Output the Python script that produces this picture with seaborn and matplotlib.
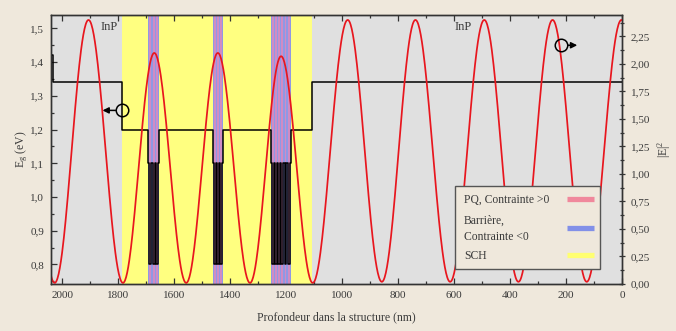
import numpy as np
import pandas as pd
import matplotlib
matplotlib.use("Agg")
import matplotlib.pyplot as plt
import seaborn as sns
from matplotlib.ticker import FuncFormatter, MultipleLocator
from matplotlib.lines import Line2D
from matplotlib.patches import Rectangle

# ---------------- data ----------------
# band-gap profile: layer boundaries (depth, nm) and band gap of each layer (eV)
layer_bounds = [2040, 2032, 1787, 1694, 1653, 1462, 1427, 1253, 1184, 1107, 0]
layer_eg = [1.42, 1.34, 1.20, None, 1.20, None, 1.20, None, 1.20, 1.34]
# quantum-well groups (number of wells, well thickness nm)
qw_count = [3, 3, 6]
qw_well_nm = [7, 7, 7]
eg_barrier = 1.10
eg_well = 0.80
sch_start, sch_end = 1787, 1107

# |E|^2 extrema (depth nm, value)
ext_depth = [2150, 2027, 1906, 1783, 1671, 1557, 1444, 1329, 1218, 1105,
             980, 858, 738, 614, 492, 370, 248, 126, 2, -120]
ext_val = [2.40, 0.01, 2.40, 0.01, 2.10, 0.01, 2.10, 0.01, 2.07, 0.01,
           2.40, 0.02, 2.40, 0.02, 2.40, 0.02, 2.40, 0.02, 2.40, 0.02]

legend_labels = ["PQ, Contrainte >0", "Barrière,\nContrainte <0", "SCH"]

# ---------------- style ----------------
BG = "#efe8dc"
GRAY = "#e0e0e0"
YEL = "#ffff80"
PINK = "#f0889c"
BLUE = "#8290e8"
WELLC = "#d08cc4"
BARC = "#9098e4"
TXT = "#3a3a3a"

sns.set_theme(style="white")
plt.rcParams["font.family"] = ["Liberation Serif", "DejaVu Serif"]
plt.rcParams["axes.unicode_minus"] = False
plt.rcParams["mathtext.fontset"] = "custom"
plt.rcParams["mathtext.rm"] = "Liberation Serif"
plt.rcParams["mathtext.it"] = "Liberation Serif:italic"

fig = plt.figure(figsize=(6.76, 3.31), dpi=100, facecolor=BG)
ax = fig.add_axes([51 / 676, 1 - 284 / 331, 571 / 676, 269 / 331])
ax.set_facecolor(GRAY)
ax2 = ax.twinx()

# backgrounds
ax.axvspan(sch_start, sch_end, color=YEL, lw=0, zorder=0.5)

# build black profile + stripes
px, py = [], []
gi = 0
for i, eg in enumerate(layer_eg):
    a, b = layer_bounds[i], layer_bounds[i + 1]
    if eg is not None:
        px += [a, b]
        py += [eg, eg]
    else:
        n = qw_count[gi]
        w = qw_well_nm[gi]
        bar = ((a - b) - n * w) / (n + 1)
        pos = a
        for k in range(n):
            ax.axvspan(pos, pos - bar, color=BARC, lw=0, zorder=0.6)
            px += [pos, pos - bar]
            py += [eg_barrier, eg_barrier]
            pos -= bar
            ax.axvspan(pos, pos - w, color=WELLC, lw=0, zorder=0.6)
            px += [pos, pos - w]
            py += [eg_well, eg_well]
            pos -= w
        ax.axvspan(pos, b, color=BARC, lw=0, zorder=0.6)
        px += [pos, b]
        py += [eg_barrier, eg_barrier]
        gi += 1

prof = pd.DataFrame({"x": px, "y": py})
sns.lineplot(data=prof, x="x", y="y", sort=False, estimator=None,
             color="black", lw=1.1, ax=ax, zorder=3)

# |E|^2 curve from extrema (cos^2 half-waves)
cx, cy = [], []
for i in range(len(ext_depth) - 1):
    t = np.linspace(0, 1, 60)
    cx.append(ext_depth[i] + (ext_depth[i + 1] - ext_depth[i]) * t)
    cy.append(ext_val[i] + (ext_val[i + 1] - ext_val[i]) * (1 - np.cos(np.pi * t)) / 2)
curve = pd.DataFrame({"x": np.concatenate(cx), "y": np.concatenate(cy)})
sns.lineplot(data=curve, x="x", y="y", sort=False, estimator=None,
             color="#e8161e", lw=1.25, ax=ax2, zorder=2)

# axes limits
ax.set_xlim(2040, 0)
ax.set_ylim(0.742, 1.54)
ax2.set_ylim(0.0, 2.445)
ax2.set_xlim(2040, 0)

# ticks
comma1 = FuncFormatter(lambda v, p: f"{v:.1f}".replace(".", ","))
comma2 = FuncFormatter(lambda v, p: f"{v:.2f}".replace(".", ","))
ax.xaxis.set_major_locator(MultipleLocator(200))
ax.xaxis.set_minor_locator(MultipleLocator(100))
ax.yaxis.set_major_locator(MultipleLocator(0.1))
ax.yaxis.set_minor_locator(MultipleLocator(0.05))
ax.yaxis.set_major_formatter(comma1)
ax2.yaxis.set_major_locator(MultipleLocator(0.25))
ax2.yaxis.set_minor_locator(MultipleLocator(0.125))
ax2.yaxis.set_major_formatter(comma2)

ax.tick_params(axis="x", which="both", direction="in", top=True, bottom=True,
               labelsize=8, colors=TXT, pad=5)
ax.tick_params(axis="x", which="major", length=4, width=0.9, color="#333")
ax.tick_params(axis="x", which="minor", length=2.5, width=0.9, color="#333")
ax.tick_params(axis="y", which="both", direction="in", left=True, right=False,
               labelsize=8, colors=TXT, pad=5)
ax.tick_params(axis="y", which="major", length=4, width=0.9, color="#333")
ax.tick_params(axis="y", which="minor", length=2.5, width=0.9, color="#333")
ax2.tick_params(axis="y", which="both", direction="inout", right=True,
                labelsize=8, colors=TXT, pad=4)
ax2.tick_params(axis="y", which="major", length=5, width=0.9, color="#333")
ax2.tick_params(axis="y", which="minor", length=3, width=0.9, color="#333")

for a_ in (ax, ax2):
    for s in a_.spines.values():
        s.set_color("#333")
        s.set_linewidth(1.0)

ax.set_xlabel("Profondeur dans la structure (nm)", fontsize=8.5, color=TXT)
ax.xaxis.set_label_coords(0.5, -0.10)
ax.set_ylabel("E$_\\mathrm{g}$ (eV)", fontsize=8.5, color=TXT)
ax.yaxis.set_label_coords(-0.037, 0.5)
ax2.set_ylabel("|E|$^\\mathrm{2}$", fontsize=8.5, color=TXT)
ax2.yaxis.set_label_coords(1.058, 0.5)

# annotations
ax.text(1833, 1.503, "InP", ha="center", va="center", fontsize=9, color=TXT, zorder=5)
ax.text(566, 1.503, "InP", ha="center", va="center", fontsize=9, color=TXT, zorder=5)
ax.plot([1786], [1.257], marker="o", ms=9, mfc="none", mec="black", mew=1.1, zorder=5)
ax.annotate("", xy=(1866, 1.257), xytext=(1800, 1.257),
            arrowprops=dict(arrowstyle="-|>", color="black", lw=1.1,
                            mutation_scale=9), zorder=5)
ax2.plot([217], [2.17], marker="o", ms=9, mfc="none", mec="black", mew=1.1, zorder=5)
ax2.annotate("", xy=(150, 2.17), xytext=(204, 2.17),
             arrowprops=dict(arrowstyle="-|>", color="black", lw=1.1,
                             mutation_scale=9), zorder=5)


# legend (drawn as a box with left-aligned labels and swatches on the right)
def axc(xp, yp):
    return ((xp - 51) / 571, (284 - yp) / 269)


bx0, by0 = axc(455, 269)
bx1, by1 = axc(600, 186)
ax2.add_patch(Rectangle((bx0, by0), bx1 - bx0, by1 - by0, transform=ax2.transAxes,
                        facecolor=BG, edgecolor="#555", lw=1.0, zorder=10,
                        clip_on=False))
row_text_y = [199.3, 229.2, 255.7]
row_handle_y = [199.3, 228.3, 255.0]
for lab, ty, hy, col in zip(legend_labels, row_text_y, row_handle_y,
                            (PINK, BLUE, "#ffff70")):
    tx, tyy = axc(464, ty)
    ax2.text(tx, tyy, lab, transform=ax2.transAxes, ha="left", va="center",
             fontsize=8.4, color=TXT, zorder=11, linespacing=1.5)
    hx0, hyy = axc(567, hy)
    hx1, _ = axc(594, hy)
    ax2.add_line(Line2D([hx0, hx1], [hyy, hyy], transform=ax2.transAxes,
                        color=col, lw=3.8, solid_capstyle="butt", zorder=11))

fig.savefig("out.png", dpi=100, facecolor=BG)
